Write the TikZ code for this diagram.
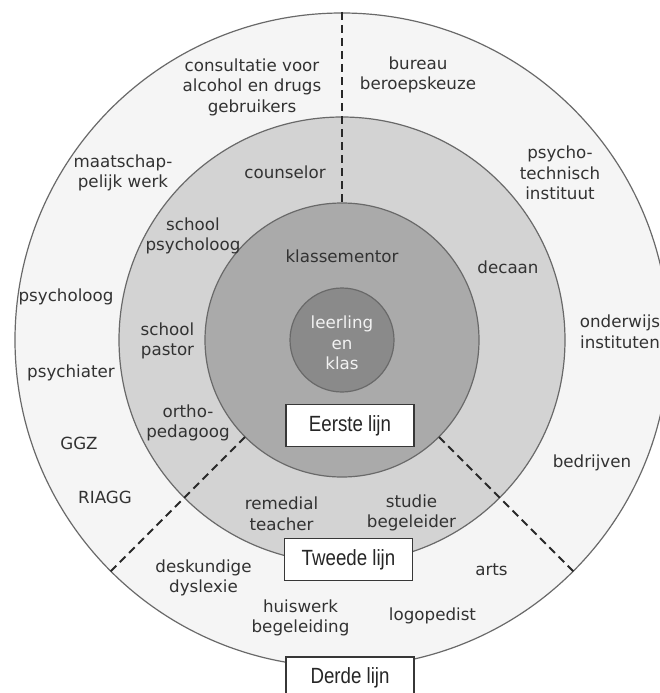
\documentclass[tikz,border=0pt]{standalone}
\usepackage{fontspec}
\setmainfont{DejaVu Sans}
\newfontfamily\boxfont[FakeStretch=0.85]{Liberation Sans}
\definecolor{txt}{RGB}{50,50,50}
\definecolor{ringline}{RGB}{105,105,105}
\definecolor{ringA}{RGB}{245,245,245}
\definecolor{ringB}{RGB}{211,211,211}
\definecolor{ringC}{RGB}{170,170,170}
\definecolor{ringD}{RGB}{138,138,138}
\definecolor{boxline}{RGB}{55,55,55}
\definecolor{divline}{RGB}{40,40,40}
\begin{document}
\begin{tikzpicture}[x=1pt,y=-1pt,
  lbl/.style={font=\fontsize{16.7}{20.5}\selectfont, text=txt, align=center, inner sep=0pt},
  ring/.style={draw=ringline, line width=1.2pt},
  lijn/.style={draw=boxline, fill=white, line width=1.3pt, minimum width=128pt, minimum height=42pt, inner sep=0pt, font=\boxfont\fontsize{22}{24}\selectfont, text=black!85},
  divider/.style={draw=divline, dash pattern=on 8pt off 5pt, line width=1.8pt}]
\useasboundingbox (0,0) rectangle (660,693);
\clip (0,0) rectangle (660,693);
\fill[white] (0,0) rectangle (660,693);
\coordinate (c) at (342,340);
% rings
\filldraw[ring, fill=ringA] (c) circle[radius=327pt];
\filldraw[ring, fill=ringB] (c) circle[radius=223pt];
\filldraw[ring, fill=ringC] (c) circle[radius=137pt];
\filldraw[ring, fill=ringD] (c) circle[radius=52pt];
% dividers
\coordinate (vt) at (342,12);
\coordinate (vb) at (342,203);
\coordinate (lo) at (110,572);
\coordinate (li) at (245,437);
\coordinate (ro) at (574,572);
\coordinate (ri) at (439,437);
\draw[divider] (vt) -- (vb);
\draw[divider] (li) -- (lo);
\draw[divider] (ri) -- (ro);
% labels
\node[lbl] (n1) at (252,87) {consultatie voor\\alcohol en drugs\\gebruikers};
\node[lbl] (n2) at (418,75) {bureau\\beroepskeuze};
\node[lbl] (n3) at (123,173) {maatschap-\\pelijk werk};
\node[lbl] (n4) at (285,172) {counselor};
\node[lbl] (n5) at (193,236) {school\\psycholoog};
\node[lbl] (n6) at (342,256) {klassementor};
\node[lbl] (n7) at (560,173) {psycho-\\technisch\\instituut};
\node[lbl] (n8) at (508,267) {decaan};
\node[lbl] (n9) at (66,297) {psycholoog};
\node[lbl] (n10) at (167.5,341) {school\\pastor};
\node[lbl, text=white!95!black] (n11) at (342,343) {leerling\\en\\klas};
\node[lbl] (n12) at (620,332) {onderwijs\\instituten};
\node[lbl] (n13) at (71,373) {psychiater};
\node[lbl] (n14) at (188,423) {ortho-\\pedagoog};
\node[lbl] (n15) at (79,443) {GGZ};
\node[lbl] (n16) at (592,463) {bedrijven};
\node[lbl] (n17) at (105,497) {RIAGG};
\node[lbl] (n18) at (281.5,514) {remedial\\teacher};
\node[lbl] (n19) at (411.5,513) {studie\\begeleider};
\node[lbl] (n20) at (203.5,578) {deskundige\\dyslexie};
\node[lbl] (n21) at (491.5,570) {arts};
\node[lbl] (n22) at (300.5,618) {huiswerk\\begeleiding};
\node[lbl] (n23) at (432.5,616) {logopedist};
% boxes
\node[lijn] (b1) at (350,425.5) {Eerste lijn};
\node[lijn] (b2) at (348.5,559.5) {Tweede lijn};
\node[lijn] (b3) at (350,678) {Derde lijn};
\end{tikzpicture}
\end{document}
